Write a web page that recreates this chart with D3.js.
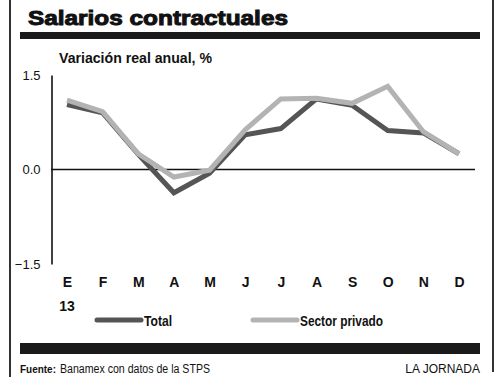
<!doctype html>
<html>
<head>
<meta charset="utf-8">
<title>Salarios contractuales</title>
<script src="https://cdnjs.cloudflare.com/ajax/libs/d3/7.8.5/d3.min.js"></script>
<style>
  body { margin: 0; background: #fff; }
  svg { display: block; }
  .narrow { font-family: "Liberation Sans Narrow", "Liberation Sans", Arial, sans-serif; }
  .axis text { fill: #111; }
</style>
</head>
<body>
<div id="chart"></div>
<script>
// data
const months = ['E', 'F', 'M', 'A', 'M', 'J', 'J', 'A', 'S', 'O', 'N', 'D'];
const total = [1.03, 0.90, 0.24, -0.37, -0.06, 0.55, 0.65, 1.12, 1.02, 0.62, 0.58, 0.25];
const privado = [1.10, 0.92, 0.25, -0.12, -0.01, 0.63, 1.12, 1.13, 1.05, 1.32, 0.60, 0.25];
const yTicks = [1.5, 0, -1.5];

const W = 500, H = 385;
const svg = d3.select('#chart').append('svg')
  .attr('width', W)
  .attr('height', H);

// frame
svg.append('line').attr('x1', 10).attr('x2', 10).attr('y1', 0).attr('y2', 377)
  .attr('stroke', '#333').attr('stroke-width', 2);
svg.append('line').attr('x1', 493).attr('x2', 493).attr('y1', 0).attr('y2', 372)
  .attr('stroke', '#333').attr('stroke-width', 2);

// title
svg.append('text')
  .attr('x', 28).attr('y', 25)
  .attr('textLength', 260).attr('lengthAdjust', 'spacingAndGlyphs')
  .style('font-family', '"Liberation Sans", Arial, sans-serif')
  .style('font-weight', 'bold')
  .style('font-size', '21px')
  .attr('stroke', '#111').attr('stroke-width', 1)
  .attr('fill', '#111')
  .text('Salarios contractuales');

svg.append('rect').attr('x', 20).attr('y', 32).attr('width', 460).attr('height', 7).attr('fill', '#1a1a1a');

// subtitle
svg.append('text').attr('class', 'narrow')
  .attr('x', 59).attr('y', 63)
  .attr('textLength', 153).attr('lengthAdjust', 'spacingAndGlyphs')
  .style('font-weight', 'bold').style('font-size', '15px').attr('fill', '#111')
  .text('Variación real anual, %');

// scales
const x = d3.scalePoint().domain(d3.range(months.length)).range([67, 459]);
const y = d3.scaleLinear().domain([-1.5, 1.5]).range([264, 75]);

// y axis
const yAxis = svg.append('g').attr('class', 'axis')
  .attr('transform', 'translate(51.5,0)')
  .call(d3.axisLeft(y).tickValues(yTicks).tickSize(0).tickSizeOuter(0).tickPadding(11)
    .tickFormat(d3.format('.1f')));
yAxis.select('.domain').attr('stroke', '#111').attr('stroke-width', 1.6);
yAxis.selectAll('text')
  .style('font-family', '"Liberation Sans", Arial, sans-serif')
  .style('font-size', '13px');

// zero line
svg.append('line')
  .attr('x1', 51).attr('x2', 475)
  .attr('y1', y(0)).attr('y2', y(0))
  .attr('stroke', '#111').attr('stroke-width', 1.6);

// x axis labels
const xAxis = svg.append('g').attr('class', 'axis narrow')
  .attr('transform', 'translate(0,277)')
  .call(d3.axisBottom(x).tickSize(0).tickPadding(0).tickFormat(i => months[i]));
xAxis.select('.domain').remove();
xAxis.selectAll('text')
  .attr('dy', '0.72em')
  .style('font-family', '"Liberation Sans Narrow", "Liberation Sans", Arial, sans-serif')
  .style('font-weight', 'bold').style('font-size', '14px');

svg.append('text').attr('class', 'narrow')
  .attr('x', x(0)).attr('y', 311).attr('text-anchor', 'middle')
  .style('font-weight', 'bold').style('font-size', '14px').attr('fill', '#111')
  .text('13');

// lines
const line = d3.line().x((d, i) => x(i)).y(d => y(d));
const series = [
  { name: 'Total', values: total, color: '#555555' },
  { name: 'Sector privado', values: privado, color: '#b3b3b3' }
];
svg.selectAll('path.serie')
  .data(series)
  .join('path')
  .attr('class', 'serie')
  .attr('d', d => line(d.values))
  .attr('fill', 'none')
  .attr('stroke', d => d.color)
  .attr('stroke-width', 5)
  .attr('stroke-linejoin', 'miter');

// legend
const legendX = [97, 253];
const legendW = [28, 83];
const legend = svg.selectAll('g.legend')
  .data(series)
  .join('g')
  .attr('class', 'legend')
  .attr('transform', (d, i) => `translate(${legendX[i]},320)`);
legend.append('line')
  .attr('x1', 0).attr('x2', 44).attr('y1', 0).attr('y2', 0)
  .attr('stroke', d => d.color).attr('stroke-width', 5).attr('stroke-linecap', 'round');
legend.append('text').attr('class', 'narrow')
  .attr('x', 47).attr('y', 5.5)
  .attr('textLength', (d, i) => legendW[i]).attr('lengthAdjust', 'spacingAndGlyphs')
  .style('font-weight', 'bold').style('font-size', '15px').attr('fill', '#111')
  .text(d => d.name);

// bottom bar
svg.append('rect').attr('x', 20).attr('y', 343).attr('width', 460).attr('height', 11).attr('fill', '#1a1a1a');

// footer
svg.append('text').attr('class', 'narrow')
  .attr('x', 20).attr('y', 373)
  .attr('textLength', 36).attr('lengthAdjust', 'spacingAndGlyphs')
  .style('font-size', '11px').style('font-weight', 'bold').attr('fill', '#111')
  .text('Fuente:');
svg.append('text').attr('class', 'narrow')
  .attr('x', 60).attr('y', 373)
  .attr('textLength', 150).attr('lengthAdjust', 'spacingAndGlyphs')
  .style('font-size', '12.5px').attr('fill', '#111')
  .text('Banamex con datos de la STPS');

svg.append('text')
  .attr('x', 480).attr('y', 373).attr('text-anchor', 'end')
  .style('font-family', '"Liberation Sans", Arial, sans-serif')
  .style('font-size', '12px').attr('fill', '#111')
  .text('LA JORNADA');
</script>
</body>
</html>
